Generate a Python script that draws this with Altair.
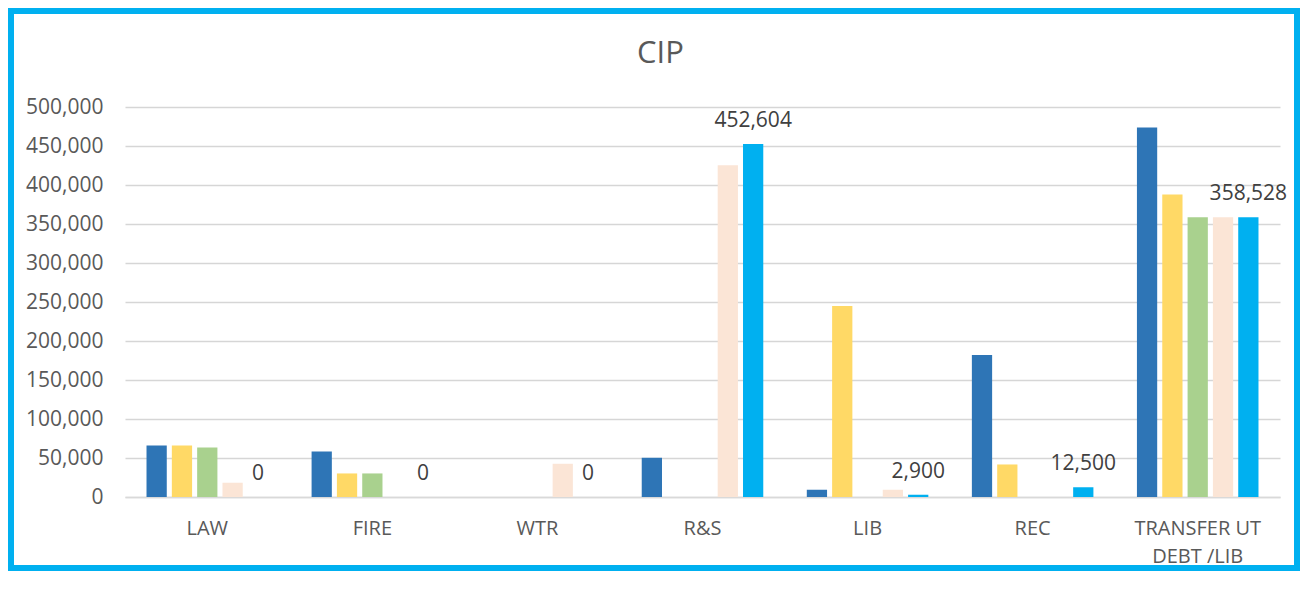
import altair as alt
import pandas as pd

categories = ["LAW", "FIRE", "WTR", "R&S", "LIB", "REC", "TRANSFER UT DEBT /LIB"]
series_names = ["Series 1", "Series 2", "Series 3", "Series 4", "Series 5"]
series_colors = ["#2E75B6", "#FFD966", "#A9D18E", "#FBE5D6", "#00B0F0"]
s1 = [66000, 58400, 0, 50300, 9300, 182100, 473600]
s2 = [66000, 30200, 0, 0, 244900, 41700, 387800]
s3 = [63500, 30200, 0, 0, 0, 0, 358528]
s4 = [18300, 0, 42600, 425300, 9300, 0, 358528]
s5 = [0, 0, 0, 452604, 2900, 12500, 358528]
y_ticks = [0, 50000, 100000, 150000, 200000, 250000, 300000, 350000, 400000, 450000, 500000]

rows = []
for name, vals in zip(series_names, [s1, s2, s3, s4, s5]):
    for c, v in zip(categories, vals):
        rows.append({"category": c, "series": name, "value": v})
df = pd.DataFrame(rows)

FONT = "Open Sans"
W, H = 1155, 390
PAD = {"left": 117, "top": 99, "right": 20, "bottom": 74}
TOTAL_W = PAD["left"] + W + PAD["right"]
TOTAL_H = PAD["top"] + H + PAD["bottom"]

x_enc = alt.X(
    "category:N",
    sort=categories,
    scale=alt.Scale(paddingInner=0.233, paddingOuter=0.115),
    axis=alt.Axis(
        title=None,
        labelAngle=0,
        labelFont=FONT,
        labelFontSize=20,
        labelColor="#595959",
        labelPadding=21,
        ticks=False,
        tickSize=0,
        domain=True,
        domainColor="#D9D9D9",
        domainWidth=1.5,
        grid=False,
        labelLineHeight=28,
        labelExpr="datum.label == 'TRANSFER UT DEBT /LIB' ? ['TRANSFER UT', 'DEBT /LIB'] : datum.label",
    ),
)
xoff_enc = alt.XOffset(
    "series:N",
    sort=series_names,
    scale=alt.Scale(domain=series_names, paddingInner=0.2, paddingOuter=0.1),
)
y_enc = alt.Y(
    "value:Q",
    scale=alt.Scale(domain=[0, 500000], nice=False),
    axis=alt.Axis(
        title=None,
        values=y_ticks,
        format=",.0f",
        labelFont=FONT,
        labelFontSize=21,
        labelColor="#595959",
        labelPadding=22,
        ticks=False,
        tickSize=0,
        domain=False,
        grid=True,
        gridColor="#D6D6D6",
        gridWidth=1.6,
    ),
)

bars = alt.Chart(df).mark_bar().encode(
    x=x_enc,
    xOffset=xoff_enc,
    y=y_enc,
    color=alt.Color(
        "series:N",
        sort=series_names,
        scale=alt.Scale(domain=series_names, range=series_colors),
        legend=None,
    ),
)

labels = alt.Chart(df).transform_filter(
    alt.datum.series == "Series 5"
).mark_text(
    font=FONT, fontSize=21, color="#404040", baseline="alphabetic", dy=-17
).encode(
    x=x_enc,
    xOffset=xoff_enc,
    y=y_enc,
    text=alt.Text("value:Q", format=",.0f"),
)

frame = alt.Chart(pd.DataFrame({"k": [0]})).mark_rect(
    fill=None, stroke="#00B0F0", strokeWidth=6, clip=False
).encode(
    x=alt.value(3 - PAD["left"]),
    x2=alt.value(TOTAL_W - 3 - PAD["left"]),
    y=alt.value(3 - PAD["top"]),
    y2=alt.value(TOTAL_H - 3 - PAD["top"]),
)

chart = alt.layer(bars, labels, frame).properties(
    width=W,
    height=H,
    padding=PAD,
    background="white",
    autosize=alt.AutoSizeParams(type="none"),
    title=alt.TitleParams(
        "CIP",
        font=FONT,
        fontSize=31,
        fontWeight="normal",
        color="#595959",
        anchor="middle",
        frame="group",
        baseline="alphabetic",
        dx=-42,
        offset=-86,
    ),
).configure_view(strokeWidth=0, stroke="transparent")

chart.save("out.html", embed_options={"renderer": "svg", "actions": False})
